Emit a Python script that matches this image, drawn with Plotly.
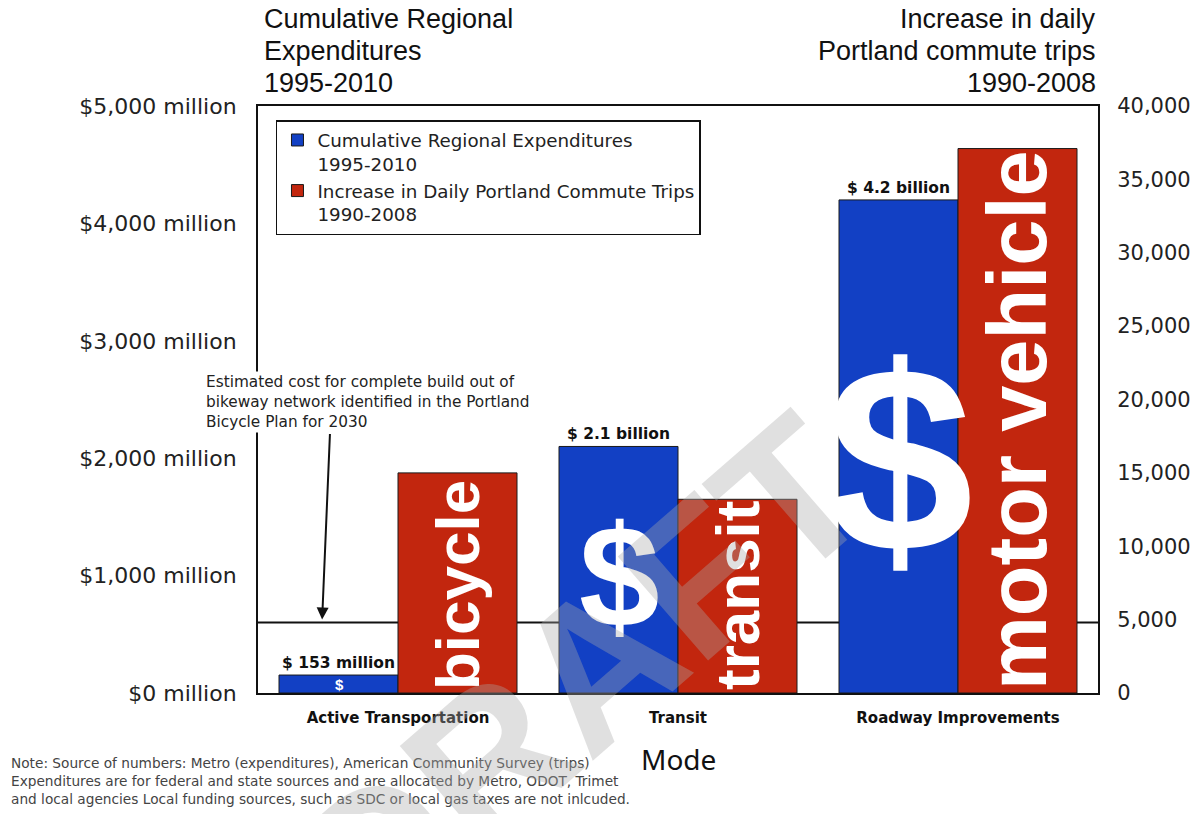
import plotly.graph_objects as go

# ---- data ----
categories = ["Active Transportation", "Transit", "Roadway Improvements"]
expenditures_musd = [153, 2100, 4200]          # $ million, 1995-2010
expenditure_labels = ["$ 153 million", "$ 2.1 billion", "$ 4.2 billion"]
trip_increase = [15000, 13200, 37100]          # daily commute trips, 1990-2008
trip_labels = ["bicycle", "transit", "motor vehicle"]
trip_label_sizes = [62, 62, 83]
dollar_sizes = [15, 145, 265]
bike_plan_cost_musd = 600

left_ticks = [0, 1000, 2000, 3000, 4000, 5000]
left_ticktext = ["$0 million", "$1,000 million", "$2,000 million",
                 "$3,000 million", "$4,000 million", "$5,000 million"]
right_ticks = [0, 5000, 10000, 15000, 20000, 25000, 30000, 35000, 40000]

left_title = ["Cumulative Regional", "Expenditures", "1995-2010"]
right_title = ["Increase in daily", "Portland commute trips", "1990-2008"]

BLUE = "#1240C4"
RED = "#C2260E"
TXT = "DejaVu Sans"
ARIAL = "Liberation Sans"

fig = go.Figure()
fig.add_bar(
    x=categories, y=expenditures_musd, yaxis="y", offsetgroup="exp",
    name="Cumulative Regional Expenditures<br>1995-2010",
    marker=dict(color=BLUE, line=dict(color="#1a1a1a", width=1)),
    text=expenditure_labels, textposition="outside", textangle=0,
    constraintext="none", cliponaxis=False,
    textfont=dict(family=TXT, size=15.5, color="#111", weight="bold"),
    hoverinfo="skip",
)
fig.add_bar(
    x=categories, y=trip_increase, yaxis="y2", offsetgroup="trips",
    name="Increase in Daily Portland Commute Trips<br>1990-2008",
    marker=dict(color=RED, line=dict(color="#1a1a1a", width=1)),
    text=trip_labels, textposition="inside", insidetextanchor="start",
    textangle=-90, constraintext="none",
    textfont=dict(family=ARIAL, size=trip_label_sizes, color="white", weight="bold"),
    hoverinfo="skip",
)

annotations = []
# dollar signs inside blue bars
for cat, v, s in zip(categories, expenditures_musd, dollar_sizes):
    annotations.append(dict(
        x=cat, y=v * (0.475 if s > 20 else 0.5), xref="x", yref="y",
        xshift=-59, text="<b>$</b>", showarrow=False,
        font=dict(family=ARIAL, size=s, color="white"),
        xanchor="center", yanchor="middle",
    ))

# titles, one line each
title_y = [1.149, 1.094, 1.040]
for line, yy in zip(left_title, title_y):
    annotations.append(dict(
        x=0.005, y=yy, xref="paper", yref="paper", text=line,
        showarrow=False, xanchor="left", yanchor="middle",
        font=dict(family=ARIAL, size=27, color="#111"),
    ))
for line, yy in zip(right_title, title_y):
    annotations.append(dict(
        x=0.9995, y=yy, xref="paper", yref="paper", text=line,
        showarrow=False, xanchor="right", yanchor="middle",
        font=dict(family=ARIAL, size=27, color="#111"),
    ))

# bike plan note text
annotations.append(dict(
    x=-0.064, y=0.548, xref="paper", yref="paper",
    text="Estimated cost for complete build out of<br>bikeway network identified in the Portland<br>Bicycle Plan for 2030",
    showarrow=False, bgcolor="white", xanchor="left", yanchor="top", align="left",
    font=dict(family=TXT, size=15.3, color="#222"),
))
# its arrow
annotations.append(dict(
    x=categories[0], y=bike_plan_cost_musd, xref="x", yref="y",
    xshift=-76, text="", showarrow=True,
    ax=8, ay=-190, axref="pixel", ayref="pixel",
    arrowhead=2, arrowsize=1.2, arrowwidth=2, arrowcolor="#111", standoff=3,
))

# note
annotations.append(dict(
    x=-0.296, y=-0.102, xref="paper", yref="paper",
    text="Note: Source of numbers: Metro (expenditures), American Community Survey (trips)<br>"
         "Expenditures are for federal and state sources and are allocated by Metro, ODOT, Trimet<br>"
         "and local agencies Local funding sources, such as SDC or local gas taxes are not inlcuded.",
    showarrow=False, xanchor="left", yanchor="top", align="left",
    font=dict(family=TXT, size=13.7, color="#444"),
))

# Mode
annotations.append(dict(
    x=0.5, y=-0.112, xref="paper", yref="paper", text="Mode",
    showarrow=False, xanchor="center", yanchor="middle",
    font=dict(family="Noto Sans", size=28, color="#111"),
))

# DRAFT watermark
annotations.append(dict(
    x=0.385, y=0.025, xref="paper", yref="paper", text="<b>DRAFT</b>",
    showarrow=False, textangle=-41, xanchor="center", yanchor="middle",
    font=dict(family=ARIAL, size=200, color="rgba(170,170,170,0.36)"),
))

fig.update_layout(
    width=1194, height=806,
    margin=dict(l=250, r=104, t=98, b=121),
    paper_bgcolor="white", plot_bgcolor="white",
    barmode="group", bargap=0.15, bargroupgap=0,
    showlegend=True,
    legend=dict(
        x=0.0214, y=0.976, xanchor="left", yanchor="top",
        bgcolor="white", bordercolor="#111", borderwidth=1.5,
        font=dict(family=TXT, size=18.3, color="#222"),
        valign="top", itemwidth=30,
    ),
    xaxis=dict(
        range=[-0.5, 2.5],
        showline=True, linecolor="#111", linewidth=2, mirror=True,
        showgrid=False, ticks="", ticklabelstandoff=10,
        tickfont=dict(family=TXT, size=15, color="#111", weight="bold"),
    ),
    yaxis=dict(
        range=[0, 5000], tickvals=left_ticks, ticktext=left_ticktext,
        showline=True, linecolor="#111", linewidth=2,
        showgrid=False, zeroline=False, ticks="", ticklabelstandoff=15,
        tickfont=dict(family=TXT, size=22, color="#222"),
    ),
    yaxis2=dict(
        range=[0, 40000], tickvals=right_ticks, tickformat=",",
        overlaying="y", side="right",
        showline=True, linecolor="#111", linewidth=2,
        showgrid=False, zeroline=False, ticks="", ticklabelstandoff=13,
        tickfont=dict(family=TXT, size=21, color="#222"),
    ),
    shapes=[dict(
        type="line", xref="paper", yref="y", x0=0, x1=1,
        y0=bike_plan_cost_musd, y1=bike_plan_cost_musd,
        line=dict(color="#111", width=2), layer="below",
    )],
    annotations=annotations,
)

fig.write_html("out.html")
